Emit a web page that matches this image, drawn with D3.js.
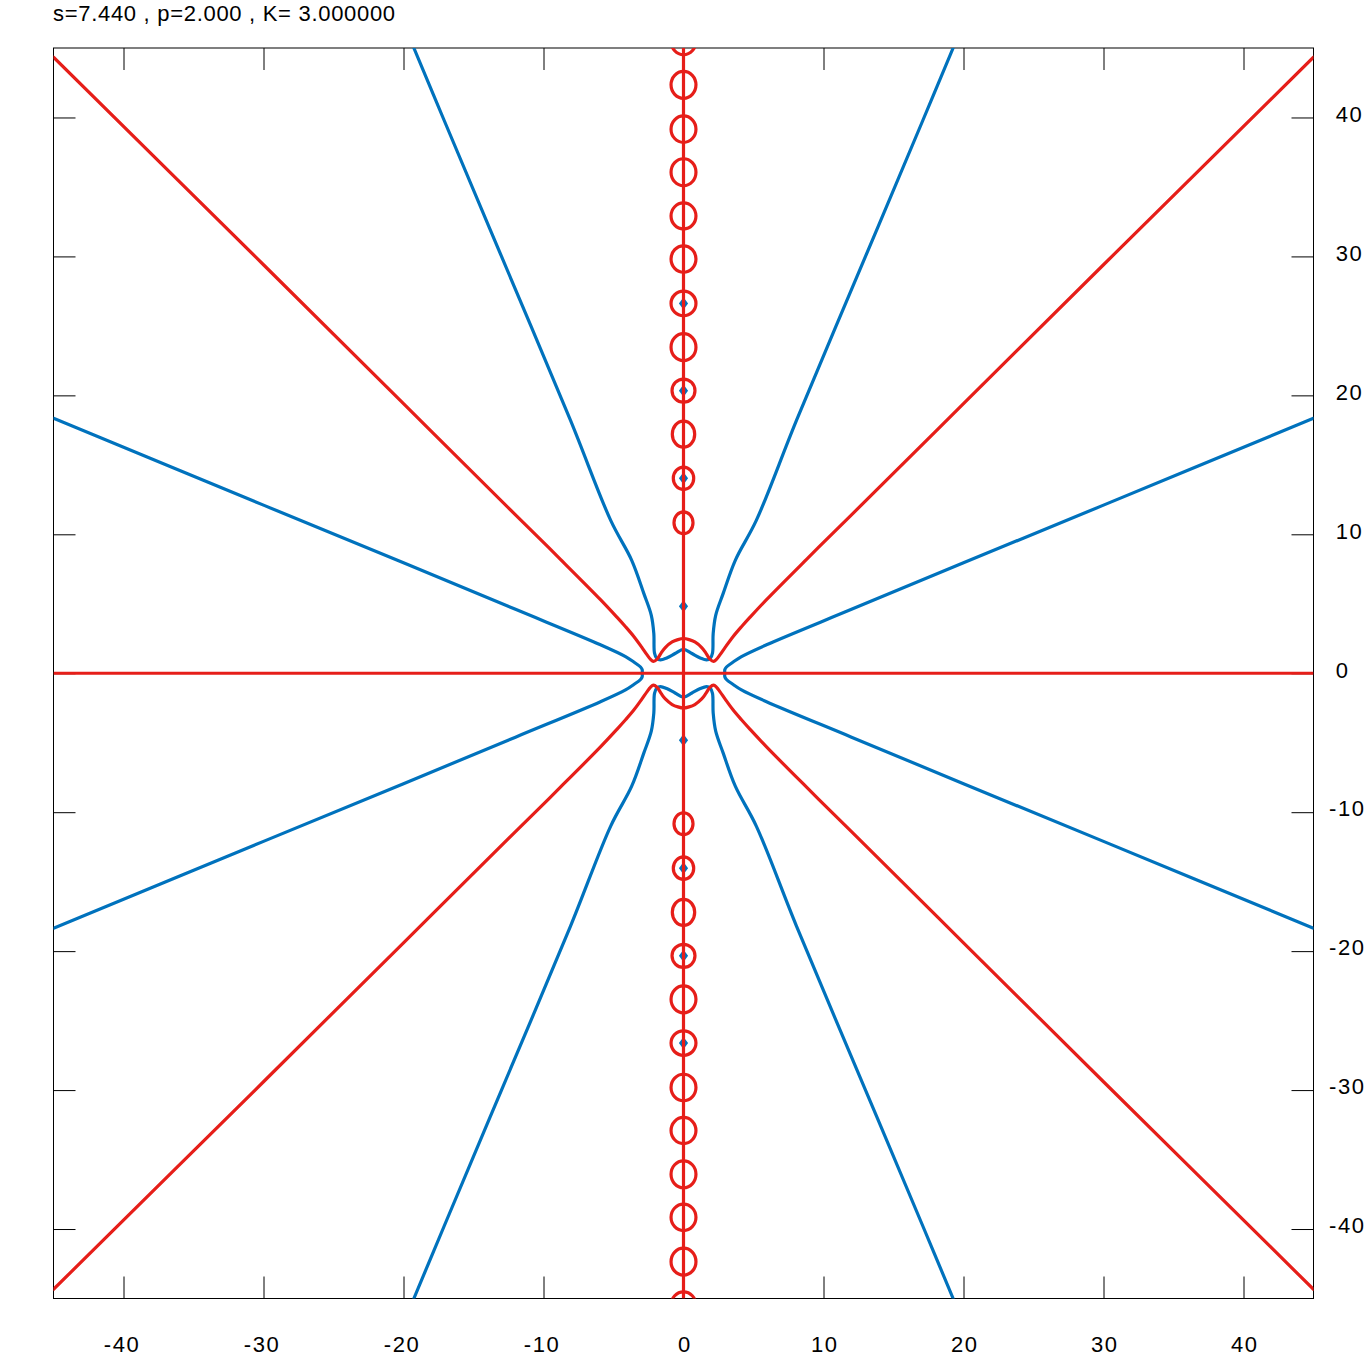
<!DOCTYPE html>
<html>
<head>
<meta charset="utf-8">
<script src="https://cdn.jsdelivr.net/npm/d3@7"></script>
<style>
  html, body { margin: 0; padding: 0; background: #fff; }
  svg { display: block; }
  text { font-family: "Liberation Sans", Arial, sans-serif; }
</style>
</head>
<body>
<svg id="chart" width="1366" height="1366"></svg>
<script>
// ---------------- data (data units) ----------------
const titleText = "s=7.440 , p=2.000 , K= 3.000000";
const xDomain = [-45, 45];
const yDomain = [-45, 45];
const xTicks = [-40, -30, -20, -10, 0, 10, 20, 30, 40];
const yTicks = [-40, -30, -20, -10, 0, 10, 20, 30, 40];

// red curves (Re = 0)
const redHorizontal = [[-45, 0], [45, 0]];
const redVertical = [[0, -45], [0, 45]];
const redUpper = [
  [-45, 44.34], [-30, 29.4], [-20, 19.4], [-12, 11.4], [-8.79, 8.2], [-5.93, 5.3],
  [-4.74, 4.02], [-4.14, 3.35], [-3.55, 2.65], [-3.0, 1.9], [-2.6, 1.32], [-2.35, 1.0],
  [-2.15, 0.86], [-1.9, 1.0], [-1.6, 1.45], [-1.3, 1.85], [-0.81, 2.25], [-0.4, 2.42], [0, 2.5],
  [0.4, 2.42], [0.81, 2.25], [1.3, 1.85], [1.6, 1.45], [1.9, 1.0], [2.15, 0.86],
  [2.35, 1.0], [2.6, 1.32], [3.0, 1.9], [3.55, 2.65], [4.14, 3.35], [4.74, 4.02],
  [5.93, 5.3], [8.79, 8.2], [12, 11.4], [20, 19.4], [30, 29.4], [45, 44.34]
];
const redLower = [
  [-45, -44.34], [-30, -29.4], [-20, -19.4], [-12, -11.4], [-8.79, -8.2], [-5.93, -5.3],
  [-4.74, -4.02], [-4.14, -3.35], [-3.55, -2.65], [-3.0, -1.9], [-2.6, -1.32], [-2.35, -1.0],
  [-2.15, -0.86], [-1.9, -1.0], [-1.6, -1.45], [-1.3, -1.85], [-0.81, -2.25], [-0.4, -2.42], [0, -2.5],
  [0.4, -2.42], [0.81, -2.25], [1.3, -1.85], [1.6, -1.45], [1.9, -1.0], [2.15, -0.86],
  [2.35, -1.0], [2.6, -1.32], [3.0, -1.9], [3.55, -2.65], [4.14, -3.35], [4.74, -4.02],
  [5.93, -5.3], [8.79, -8.2], [12, -11.4], [20, -19.4], [30, -29.4], [45, -44.34]
];
// small closed red loops on the imaginary axis: [centre y, rx, ry]
const redLoops = [
  [45.49, 0.89, 0.97], [42.35, 0.89, 0.97], [39.16, 0.89, 0.95], [36.06, 0.89, 0.97],
  [32.91, 0.89, 0.94], [29.81, 0.89, 0.95], [26.62, 0.89, 0.88], [23.47, 0.89, 0.97],
  [20.34, 0.82, 0.83], [17.21, 0.80, 0.94], [14.03, 0.73, 0.81], [10.83, 0.68, 0.79],
  [-10.83, 0.68, 0.79], [-14.03, 0.73, 0.81], [-17.21, 0.80, 0.94], [-20.34, 0.82, 0.83],
  [-23.47, 0.89, 0.97], [-26.62, 0.89, 0.88], [-29.81, 0.89, 0.95], [-32.91, 0.89, 0.94],
  [-36.06, 0.89, 0.97], [-39.16, 0.89, 0.95], [-42.35, 0.89, 0.97], [-45.49, 0.89, 0.97]
];

// blue curves (Im = 0)
const blueUpper = [
  [-19.26, 45], [-17.1, 39.8], [-13.0, 30], [-8.07, 18.2], [-5.2, 11.0], [-3.7, 8.13],
  [-2.83, 5.73], [-2.3, 4.17], [-2.12, 2.86], [-2.07, 1.45], [-1.9, 1.05], [-1.65, 0.96],
  [-1.2, 1.1], [-0.6, 1.42], [0, 1.72], [0.6, 1.42], [1.2, 1.1], [1.65, 0.96], [1.9, 1.05],
  [2.07, 1.45], [2.12, 2.86], [2.3, 4.17], [2.83, 5.73], [3.7, 8.13], [5.2, 11.0],
  [8.07, 18.2], [13.0, 30], [17.1, 39.8], [19.26, 45]
];
const blueLower = [
  [-19.26, -45], [-17.1, -39.8], [-13.0, -30], [-8.07, -18.2], [-5.2, -11.0], [-3.7, -8.13],
  [-2.83, -5.73], [-2.3, -4.17], [-2.12, -2.86], [-2.07, -1.45], [-1.9, -1.05], [-1.65, -0.96],
  [-1.2, -1.1], [-0.6, -1.42], [0, -1.72], [0.6, -1.42], [1.2, -1.1], [1.65, -0.96], [1.9, -1.05],
  [2.07, -1.45], [2.12, -2.86], [2.3, -4.17], [2.83, -5.73], [3.7, -8.13], [5.2, -11.0],
  [8.07, -18.2], [13.0, -30], [17.1, -39.8], [19.26, -45]
];
const blueLeft = [
  [-45, 18.35], [-30, 12.1], [-20, 7.95], [-12, 4.6], [-5.93, 2.05], [-4.14, 1.2],
  [-3.55, 0.81], [-3.07, 0.45], [-2.95, 0.25], [-2.95, 0], [-2.95, -0.25], [-3.07, -0.45],
  [-3.55, -0.81], [-4.14, -1.2], [-5.93, -2.05], [-12, -4.6], [-20, -7.95], [-30, -12.1], [-45, -18.35]
];
const blueRight = [
  [45, 18.35], [30, 12.1], [20, 7.95], [12, 4.6], [5.93, 2.05], [4.14, 1.2],
  [3.55, 0.81], [3.07, 0.45], [2.95, 0.25], [2.95, 0], [2.95, -0.25], [3.07, -0.45],
  [3.55, -0.81], [4.14, -1.2], [5.93, -2.05], [12, -4.6], [20, -7.95], [30, -12.1], [45, -18.35]
];
// isolated blue points on the imaginary axis (y values)
const bluePoints = [26.62, 20.34, 14.03, 4.82, -4.82, -14.03, -20.34, -26.62];

// ---------------- drawing ----------------
const RED = "rgb(230,30,25)";
const BLUE = "rgb(0,114,189)";
const L = 53.5, R = 1313.5, T = 48, B = 1298.5;
const FONT = '"Liberation Sans", Arial, sans-serif';
const tickFmt = d => String(d); // plain hyphen-minus

const svg = d3.select("#chart");
const x = d3.scaleLinear().domain(xDomain).range([L, R]);
const y = d3.scaleLinear().domain(yDomain).range([B, T]);

svg.append("text")
  .attr("x", 53).attr("y", 21)
  .attr("font-size", 22).attr("fill", "#000")
  .attr("letter-spacing", 0.7)
  .text(titleText);

svg.append("defs").append("clipPath").attr("id", "plotclip")
  .append("rect").attr("x", L).attr("y", T).attr("width", R - L).attr("height", B - T);

function styleAxis(g) {
  g.select(".domain").remove();
  g.selectAll(".tick line").attr("stroke", "#000").attr("stroke-width", 1);
  g.selectAll(".tick text").attr("font-size", 22).attr("fill", "#000")
    .attr("font-family", FONT).attr("letter-spacing", 1.6);
}

// bottom
svg.append("g").attr("transform", `translate(0,${B})`)
  .call(d3.axisBottom(x).tickValues(xTicks).tickSizeInner(-22).tickSizeOuter(0).tickPadding(37.5).tickFormat(tickFmt))
  .call(styleAxis)
  .call(g => g.selectAll(".tick text").attr("dx", d => d < 0 ? -2 : 0.8));
// top
svg.append("g").attr("transform", `translate(0,${T})`)
  .call(d3.axisTop(x).tickValues(xTicks).tickSizeInner(-22).tickSizeOuter(0).tickFormat(""))
  .call(styleAxis);
// left
svg.append("g").attr("transform", `translate(${L},0)`)
  .call(d3.axisLeft(y).tickValues(yTicks).tickSizeInner(-22).tickSizeOuter(0).tickFormat(""))
  .call(styleAxis);
// right
svg.append("g").attr("transform", `translate(${R},0)`)
  .call(d3.axisRight(y).tickValues(yTicks).tickSizeInner(-22).tickSizeOuter(0).tickPadding(22.5).tickFormat(tickFmt))
  .call(styleAxis)
  .call(g => g.selectAll(".tick text")
    .attr("text-anchor", "start")
    .attr("x", d => d < 0 ? 15.5 : 22.2)
    .attr("dy", "0.17em"));

// frame
svg.append("rect").attr("x", L).attr("y", T).attr("width", R - L).attr("height", B - T)
  .attr("fill", "none").attr("stroke", "#000").attr("stroke-width", 1);

const plot = svg.append("g").attr("clip-path", "url(#plotclip)");
const line = d3.line().x(d => x(d[0])).y(d => y(d[1])).curve(d3.curveCatmullRom.alpha(0.5));

// blue first
[blueUpper, blueLower, blueLeft, blueRight].forEach(c => {
  plot.append("path").datum(c).attr("d", line)
    .attr("fill", "none").attr("stroke", BLUE).attr("stroke-width", 3.2)
    .attr("stroke-linejoin", "round").attr("stroke-linecap", "round");
});
plot.selectAll("path.bdot").data(bluePoints).enter().append("path")
  .attr("class", "bdot")
  .attr("d", d3.symbol().type(d3.symbolDiamond).size(60))
  .attr("transform", d => `translate(${x(0)},${y(d)}) scale(1.1,0.85)`)
  .attr("fill", BLUE);

// red
[redHorizontal, redVertical].forEach(c => {
  plot.append("path").datum(c).attr("d", d3.line().x(d => x(d[0])).y(d => y(d[1])))
    .attr("fill", "none").attr("stroke", RED).attr("stroke-width", 3.2);
});
[redUpper, redLower].forEach(c => {
  plot.append("path").datum(c).attr("d", line)
    .attr("fill", "none").attr("stroke", RED).attr("stroke-width", 3.2)
    .attr("stroke-linejoin", "round").attr("stroke-linecap", "round");
});
plot.selectAll("ellipse.rloop").data(redLoops).enter().append("ellipse")
  .attr("class", "rloop")
  .attr("cx", x(0))
  .attr("cy", d => y(d[0]))
  .attr("rx", d => x(d[1]) - x(0))
  .attr("ry", d => y(0) - y(d[2]))
  .attr("fill", "none").attr("stroke", RED).attr("stroke-width", 3.2);
</script>
</body>
</html>
